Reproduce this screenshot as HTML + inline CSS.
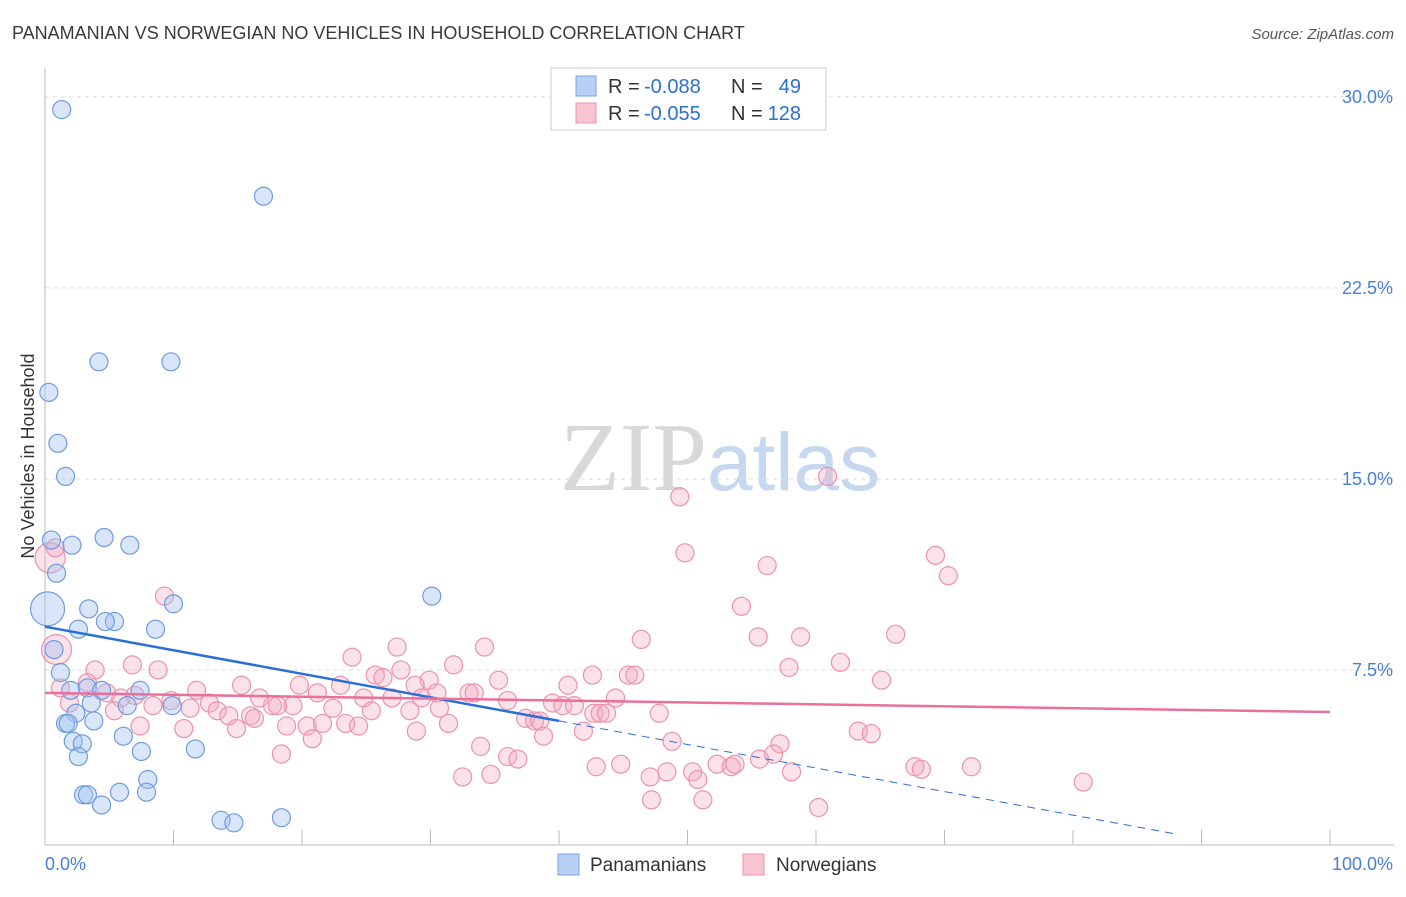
<!DOCTYPE html>
<html><head><meta charset="utf-8"><style>
html,body{margin:0;padding:0;background:#fff;}
body{width:1406px;height:892px;overflow:hidden;font-family:"Liberation Sans",sans-serif;}
</style></head><body>
<svg id="chart" width="1406" height="892" xmlns="http://www.w3.org/2000/svg" font-family="Liberation Sans, sans-serif">
<text x="12" y="39" font-size="18" fill="#3a3a3a">PANAMANIAN VS NORWEGIAN NO VEHICLES IN HOUSEHOLD CORRELATION CHART</text>
<text x="1394" y="39" font-size="15" fill="#555" font-style="italic" text-anchor="end">Source: ZipAtlas.com</text>
<text x="720" y="490" font-size="98" text-anchor="middle"><tspan font-family="Liberation Serif, serif" fill="#d8d8d8">ZIP</tspan><tspan fill="#c6d8f0" font-size="82">atlas</tspan></text>
<text transform="translate(34,456) rotate(-90)" font-size="18" fill="#333" text-anchor="middle">No Vehicles in Household</text>
<g id="grid"></g><g id="axes"></g><g id="marks"></g>
<g>
<rect x="551" y="68" width="275" height="62" fill="#fff" stroke="#ccc"/>
<rect x="576" y="76" width="20" height="20" fill="#b8d0f4" stroke="#7aa4e4"/>
<text x="608" y="93" font-size="20" fill="#333">R =</text>
<text x="644" y="93" font-size="20" fill="#2a6fd6">-0.088</text>
<text x="731" y="93" font-size="20" fill="#333">N =</text>
<text x="801" y="93" font-size="20" fill="#2a6fd6" text-anchor="end">49</text>
<rect x="576" y="103" width="20" height="20" fill="#f8c4d2" stroke="#ea94ae"/>
<text x="608" y="120" font-size="20" fill="#333">R =</text>
<text x="644" y="120" font-size="20" fill="#2a6fd6">-0.055</text>
<text x="731" y="120" font-size="20" fill="#333">N =</text>
<text x="801" y="120" font-size="20" fill="#2a6fd6" text-anchor="end">128</text>
</g>
<g>
<rect x="558" y="854" width="21" height="21" fill="#b8d0f4" stroke="#7aa4e4"/>
<text x="590" y="871" font-size="19" fill="#333">Panamanians</text>
<rect x="743" y="854" width="21" height="21" fill="#f8c4d2" stroke="#ea94ae"/>
<text x="776" y="871" font-size="19" fill="#333">Norwegians</text>
</g>
</svg>
<script>
const yTicks=[7.5,15,22.5,30];
const yTickLabels=["7.5%","15.0%","22.5%","30.0%"];
const xTickLabels=["0.0%","100.0%"];
const blueX=[1.3,17.0,4.2,9.8,0.3,1.0,1.6,0.5,4.6,6.6,2.1,0.9,0.2,3.4,10.0,30.1,5.4,4.7,2.6,8.6,0.7,1.2,2.0,3.3,4.4,7.4,6.4,3.6,2.4,9.9,1.6,1.8,3.8,6.1,2.2,2.9,7.5,11.7,2.6,8.0,7.9,3.0,3.3,5.8,4.4,13.7,14.7,18.4];
const blueY=[29.5,26.1,19.6,19.6,18.4,16.4,15.1,12.6,12.7,12.4,12.4,11.3,9.9,9.9,10.1,10.4,9.4,9.4,9.1,9.1,8.3,7.4,6.7,6.8,6.7,6.7,6.1,6.2,5.8,6.1,5.4,5.4,5.5,4.9,4.7,4.6,4.3,4.4,4.1,3.2,2.7,2.6,2.6,2.7,2.2,1.6,1.5,1.7];
const pinkX=[0.4,0.9,0.8,9.3,49.4,60.9,49.8,69.3,56.2,70.3,54.2,46.4,55.5,58.8,66.2,27.4,34.2,23.9,31.8,42.6,45.4,45.9,57.9,61.9,65.1,3.9,6.8,8.8,3.3,11.8,15.3,19.8,23.0,25.7,27.7,29.9,35.3,40.7,33.0,33.4,30.5,28.8,26.3,1.2,4.8,5.9,7.0,9.8,12.8,16.7,17.7,19.3,21.2,24.8,27.0,29.3,36.0,39.5,40.3,41.2,44.4,1.9,5.4,8.4,11.3,13.4,14.3,16.0,16.3,18.1,22.4,25.4,28.4,30.7,42.7,43.2,43.7,47.8,37.4,38.1,38.5,7.4,10.8,14.9,18.8,20.4,21.6,23.4,24.4,28.9,31.4,41.9,38.8,48.8,57.2,63.3,64.3,33.9,36.0,36.8,20.8,18.4,32.5,34.7,42.9,44.8,47.1,48.4,50.4,50.8,52.3,53.4,53.7,55.6,56.7,58.1,67.7,68.2,72.1,80.8,47.2,51.2,60.2];
const pinkY=[11.9,8.3,12.3,10.4,14.3,15.1,12.1,12.0,11.6,11.2,10.0,8.7,8.8,8.8,8.9,8.4,8.4,8.0,7.7,7.3,7.3,7.3,7.6,7.8,7.1,7.5,7.7,7.5,7.0,6.7,6.9,6.9,6.9,7.3,7.5,7.1,7.1,6.9,6.6,6.6,6.6,6.9,7.2,6.8,6.6,6.4,6.5,6.3,6.2,6.4,6.1,6.1,6.6,6.4,6.4,6.4,6.3,6.2,6.1,6.1,6.4,6.2,5.9,6.1,6.0,5.9,5.7,5.7,5.6,6.1,6.0,5.9,5.9,6.0,5.8,5.8,5.8,5.8,5.6,5.5,5.5,5.3,5.2,5.2,5.3,5.3,5.4,5.4,5.3,5.1,5.4,5.1,4.9,4.7,4.6,5.1,5.0,4.5,4.1,4.0,4.8,4.2,3.3,3.4,3.7,3.8,3.3,3.5,3.5,3.2,3.8,3.7,3.8,4.0,4.2,3.5,3.7,3.6,3.7,3.1,2.4,2.4,2.1];
const blueTrend=[9.2,-0.0925];
const pinkTrend=[6.6,-0.0075];
const blueSolidEnd=40, blueDashEnd=88;

const NS="http://www.w3.org/2000/svg";
const X=v=>45+v*12.85, Y=v=>861-v*25.47;
function mk(tag,attrs,parent){const e=document.createElementNS(NS,tag);for(const k in attrs)e.setAttribute(k,attrs[k]);parent.appendChild(e);return e;}
const grid=document.getElementById('grid'),axes=document.getElementById('axes'),marks=document.getElementById('marks');
yTicks.forEach((t,i)=>{
 const l=mk('line',{x1:45,x2:1394,y1:Y(t),y2:Y(t),stroke:'#ddd','stroke-dasharray':'4,4'},grid);
 
 
 const tx=mk('text',{x:1393,y:Y(t)+6,'font-size':18,fill:'#4a7fd6','text-anchor':'end'},axes);
 tx.textContent=yTickLabels[i];
 
 
});
const ax=mk('line',{x1:45,x2:45,y1:68,y2:845,stroke:'#bbb'},axes);


const bx=mk('line',{x1:45,x2:1394,y1:845,y2:845,stroke:'#bbb'},axes);


for(let i=0;i<=10;i++){
 const t=mk('line',{x1:X(i*10),x2:X(i*10),y1:830,y2:845,stroke:'#bbb'},axes);
 
 
}
const xl0=mk('text',{x:45,y:870,'font-size':18,fill:'#4a7fd6'},axes);xl0.textContent=xTickLabels[0];


const xl1=mk('text',{x:1393,y:870,'font-size':18,fill:'#4a7fd6','text-anchor':'end'},axes);xl1.textContent=xTickLabels[1];



pinkX.forEach((x,i)=>{
 const r=i<2?15:9;
 const c=mk('circle',{cx:X(x),cy:Y(pinkY[i]),r:r,fill:'rgba(244,170,192,0.35)',stroke:'#eb93ad','stroke-width':1.2},marks);
 
 
});
blueX.forEach((x,i)=>{
 const r=i===12?17:9;
 const c=mk('circle',{cx:X(x),cy:Y(blueY[i]),r:r,fill:'rgba(160,192,240,0.4)',stroke:'#6f9be0','stroke-width':1.2},marks);
 
 
});
const f=(t,x)=>t[0]+t[1]*x;
const bl=mk('line',{x1:X(0),y1:Y(f(blueTrend,0)),x2:X(blueSolidEnd),y2:Y(f(blueTrend,blueSolidEnd)),stroke:'#2a6fd6','stroke-width':2.5},marks);


const bd=mk('line',{x1:X(blueSolidEnd),y1:Y(f(blueTrend,blueSolidEnd)),x2:X(blueDashEnd),y2:Y(f(blueTrend,blueDashEnd)),stroke:'#2a6fd6','stroke-width':1,'stroke-dasharray':'8,6'},marks);


const pl=mk('line',{x1:X(0),y1:Y(f(pinkTrend,0)),x2:X(100),y2:Y(f(pinkTrend,100)),stroke:'#e8709a','stroke-width':2.5},marks);


</script>
</body></html>
